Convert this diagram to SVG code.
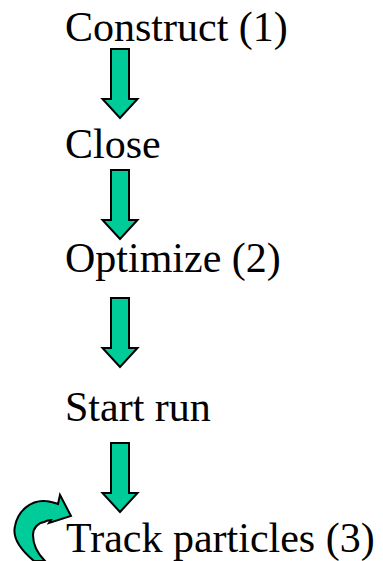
<svg xmlns="http://www.w3.org/2000/svg" xmlns:xlink="http://www.w3.org/1999/xlink" width="383" height="561" viewBox="0 0 383 561">
  <style>
    text { font-family: 'Liberation Serif', 'DejaVu Serif', 'Times New Roman', serif; font-size: 42px; fill: #000; }
    .arrow { fill: #00CC99; stroke: #000; stroke-width: 2; stroke-linejoin: miter; }
  </style>
  <defs>
    <!-- block down-arrow: shaft from y=0, head from y=50, tip at y=69 -->
    <path id="down" d="M111,0 H129 V50 H137.5 L120,69 L102.5,50 H111 Z"/>
  </defs>
  <rect width="383" height="561" fill="#fff"/>

  <g id="n-construct"><text x="65" y="41" font-family="Liberation Serif, serif">Construct (1)</text></g>
  <g id="n-close"><text x="65" y="158" font-family="Liberation Serif, serif">Close</text></g>
  <g id="n-optimize"><text x="65" y="272" font-family="Liberation Serif, serif">Optimize (2)</text></g>
  <g id="n-start"><text x="65" y="421" font-family="Liberation Serif, serif">Start run</text></g>
  <g id="n-track">
    <text x="66" y="552" font-family="Liberation Serif, serif">Track particles (3)</text>
    <!-- loop-back arrow -->
    <path class="arrow" d="M34,561 C22,551 12,538 15,526 C18,510 32,500 45,501 C50,501 55,503 58,504 L60,495 L71,516 L49,523 L51,520 C48,520 46,521 44,522 C38,523 33,528 33,535 C33,545 38,554 45,561 Z"/>
  </g>

  <g id="connectors">
    <use href="#down" xlink:href="#down" class="arrow" transform="translate(0,49)"/>
    <use href="#down" xlink:href="#down" class="arrow" transform="translate(0,170)"/>
    <use href="#down" xlink:href="#down" class="arrow" transform="translate(0,298)"/>
    <use href="#down" xlink:href="#down" class="arrow" transform="translate(0,443)"/>
  </g>
</svg>
